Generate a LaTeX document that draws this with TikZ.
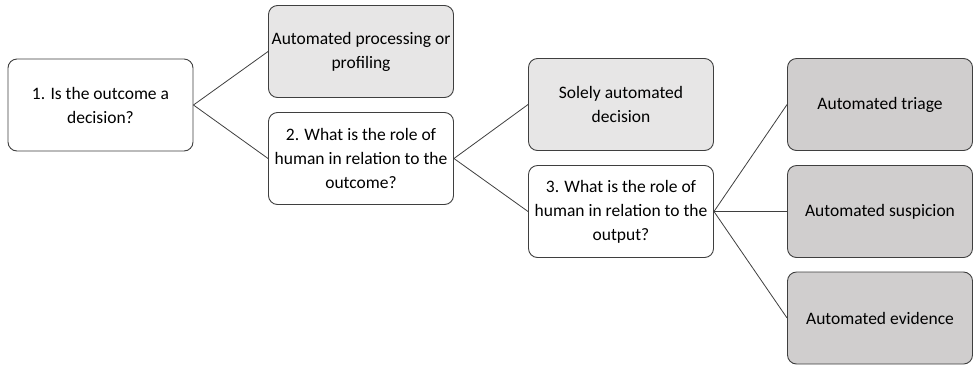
\documentclass[tikz,border=0pt]{standalone}
\usepackage{fontspec}
\setmainfont{Carlito}
\definecolor{edgegray}{HTML}{3F3F3F}
\definecolor{lightfill}{HTML}{E7E6E6}
\definecolor{darkfill}{HTML}{D0CECE}
\tikzset{
    question/.style={draw=edgegray, line width=0.9pt, rounded corners=9pt, fill=white,
        minimum width=185pt, minimum height=92pt, align=center,
        font=\fontsize{17.5}{24}\selectfont, inner sep=2pt},
    outcome/.style={question, fill=lightfill},
    category/.style={question, fill=darkfill},
    link/.style={draw=edgegray, line width=0.8pt}
}

\begin{document}
\begin{tikzpicture}[x=1pt, y=-1pt]
        \useasboundingbox (0, 0) rectangle (973, 365);
        \node[question] (q1) at (100.5, 105) {1. Is the outcome a\\decision?};
        \node[outcome]  (profiling) at (361, 51.5) {Automated processing or\\profiling};
        \node[question] (q2) at (361, 158.5) {2. What is the role of\\human in relation to the\\outcome?};
        \node[outcome]  (solely) at (621, 104.5) {Solely automated\\decision};
        \node[question] (q3) at (621, 211.5) {3. What is the role of\\human in relation to the\\output?};
        \node[category] (triage) at (880, 104.5) {Automated triage};
        \node[category] (suspicion) at (880, 211.5) {Automated suspicion};
        \node[category] (evidence) at (880, 318) {Automated evidence};
        \draw[link] (q1.east) -- (profiling.west);
        \draw[link] (q1.east) -- (q2.west);
        \draw[link] (q2.east) -- (solely.west);
        \draw[link] (q2.east) -- (q3.west);
        \draw[link] (q3.east) -- (triage.west);
        \draw[link] (q3.east) -- (suspicion.west);
        \draw[link] (q3.east) -- (evidence.west);
    \end{tikzpicture}
\end{document}
